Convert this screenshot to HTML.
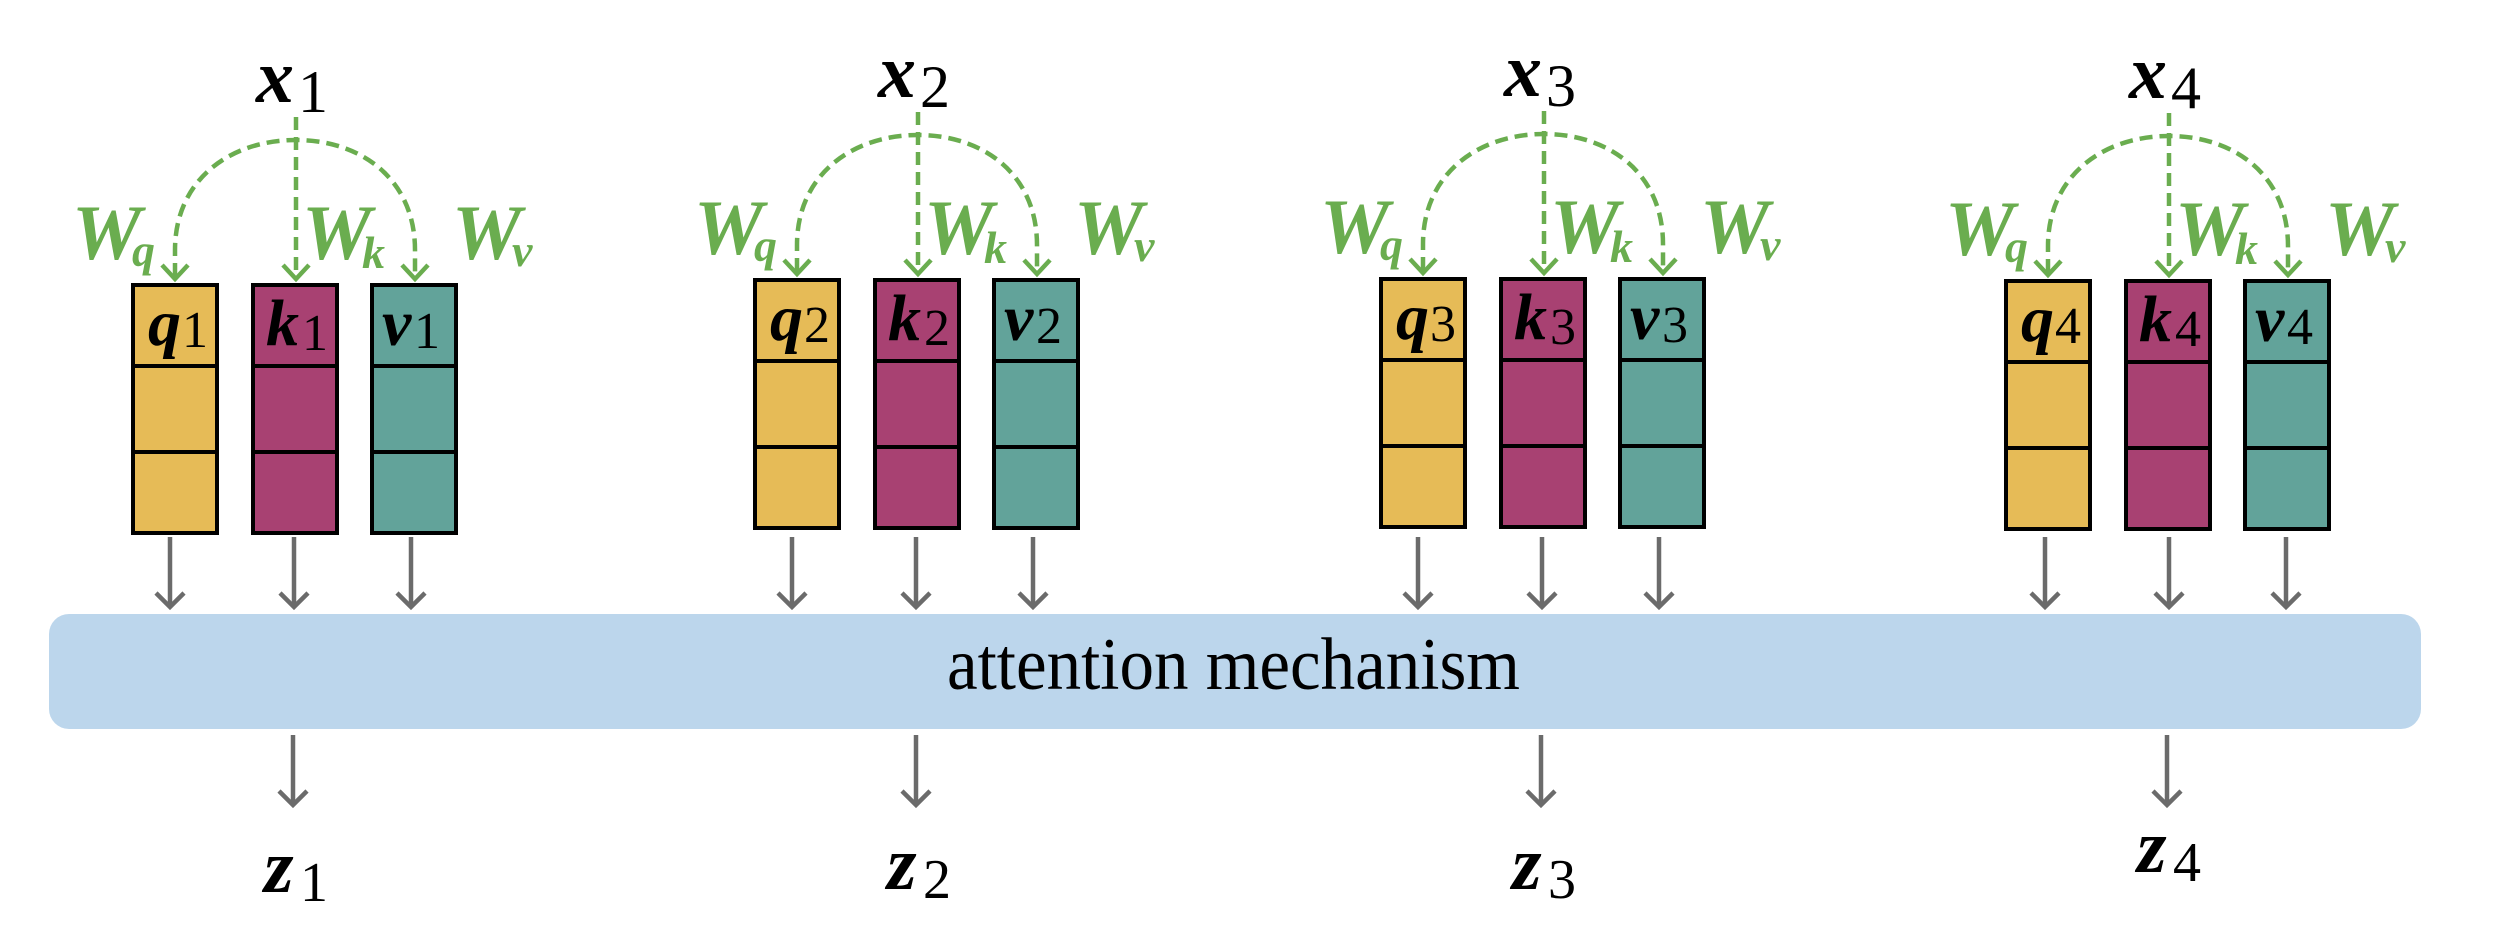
<!DOCTYPE html>
<html><head><meta charset="utf-8"><style>
html,body{margin:0;padding:0;background:#fff;width:2500px;height:943px;overflow:hidden}
svg{display:block}
.m{font-family:"Liberation Serif",serif;font-style:italic;font-weight:bold;fill:#000}
.s{font-family:"Liberation Serif",serif;font-style:normal;font-weight:normal;fill:#000}
.w{font-family:"Liberation Serif",serif;font-style:italic;font-weight:bold;fill:#6aad4f}
</style></head><body>
<svg width="2500" height="943" viewBox="0 0 2500 943" xmlns="http://www.w3.org/2000/svg">
<defs>
<g id="grp">
  <path d="M296,117 L296,276" stroke="#6aad4f" stroke-width="4.5" fill="none" stroke-dasharray="13,7"/>
  <path d="M175,276 L175,250 C175,180 230,140 296,140 C362,140 415,180 415,250 L415,276" stroke="#6aad4f" stroke-width="4.5" fill="none" stroke-dasharray="13,7"/>
  <polyline points="162,265 175,279 188,265" stroke="#6aad4f" stroke-width="4.5" fill="none"/>
  <polyline points="283,265 296,279 309,265" stroke="#6aad4f" stroke-width="4.5" fill="none"/>
  <polyline points="402,265 415,279 428,265" stroke="#6aad4f" stroke-width="4.5" fill="none"/>
  <rect x="133" y="285" width="84" height="248" fill="#e6bb57" stroke="#000" stroke-width="4"/>
  <rect x="253" y="285" width="84" height="248" fill="#a84172" stroke="#000" stroke-width="4"/>
  <rect x="372" y="285" width="84" height="248" fill="#62a39a" stroke="#000" stroke-width="4"/>
  <path d="M133,366 H217 M133,452 H217 M253,366 H337 M253,452 H337 M372,366 H456 M372,452 H456" stroke="#000" stroke-width="4"/>
  <text x="72" y="259" class="w" font-size="78">W</text><text x="132" y="266" class="w" font-size="46">q</text>
  <text x="302" y="259" class="w" font-size="78">W</text><text x="362" y="268" class="w" font-size="46">k</text>
  <text x="452" y="259" class="w" font-size="78">W</text><text x="512" y="266" class="w" font-size="46">v</text>
</g>
<g id="dn">
  <line x1="0" y1="0" x2="0" y2="70" stroke="#6b6b6b" stroke-width="4.5"/>
  <polyline points="-14,56 0,70 14,56" stroke="#6b6b6b" stroke-width="4.5" fill="none"/>
</g>
</defs>

<rect x="49" y="614" width="2372" height="115" rx="20" ry="20" fill="#bcd6ec"/>
<text x="947" y="689" font-family="Liberation Serif, serif" font-size="74" textLength="573" lengthAdjust="spacingAndGlyphs" fill="#000">attention mechanism</text>

<g transform="translate(0,0)">
  <use href="#grp"/>
  <text x="256" y="102" class="m" font-size="76">x</text><text x="298" y="112" class="s" font-size="60">1</text>
  <text x="148" y="345" class="m" font-size="66">q</text><text x="182" y="347" class="s" font-size="52">1</text>
  <text x="266" y="345" class="m" font-size="66">k</text><text x="302" y="350" class="s" font-size="52">1</text>
  <text x="382" y="345" class="m" font-size="66">v</text><text x="414" y="348" class="s" font-size="52">1</text>
</g>
<g transform="translate(622,-5)">
  <use href="#grp"/>
  <text x="256" y="102" class="m" font-size="76">x</text><text x="298" y="112" class="s" font-size="60">2</text>
  <text x="148" y="345" class="m" font-size="66">q</text><text x="182" y="347" class="s" font-size="52">2</text>
  <text x="266" y="345" class="m" font-size="66">k</text><text x="302" y="350" class="s" font-size="52">2</text>
  <text x="382" y="345" class="m" font-size="66">v</text><text x="414" y="348" class="s" font-size="52">2</text>
</g>
<g transform="translate(1248,-6)">
  <use href="#grp"/>
  <text x="256" y="102" class="m" font-size="76">x</text><text x="298" y="112" class="s" font-size="60">3</text>
  <text x="148" y="345" class="m" font-size="66">q</text><text x="182" y="347" class="s" font-size="52">3</text>
  <text x="266" y="345" class="m" font-size="66">k</text><text x="302" y="350" class="s" font-size="52">3</text>
  <text x="382" y="345" class="m" font-size="66">v</text><text x="414" y="348" class="s" font-size="52">3</text>
</g>
<g transform="translate(1873,-4)">
  <use href="#grp"/>
  <text x="256" y="102" class="m" font-size="76">x</text><text x="298" y="112" class="s" font-size="60">4</text>
  <text x="148" y="345" class="m" font-size="66">q</text><text x="182" y="347" class="s" font-size="52">4</text>
  <text x="266" y="345" class="m" font-size="66">k</text><text x="302" y="350" class="s" font-size="52">4</text>
  <text x="382" y="345" class="m" font-size="66">v</text><text x="414" y="348" class="s" font-size="52">4</text>
</g>

<use href="#dn" x="170" y="537"/><use href="#dn" x="294" y="537"/><use href="#dn" x="411" y="537"/>
<use href="#dn" x="792" y="537"/><use href="#dn" x="916" y="537"/><use href="#dn" x="1033" y="537"/>
<use href="#dn" x="1418" y="537"/><use href="#dn" x="1542" y="537"/><use href="#dn" x="1659" y="537"/>
<use href="#dn" x="2045" y="537"/><use href="#dn" x="2169" y="537"/><use href="#dn" x="2286" y="537"/>

<use href="#dn" x="293" y="735"/>
<use href="#dn" x="916" y="735"/>
<use href="#dn" x="1541" y="735"/>
<use href="#dn" x="2167" y="735"/>

<text x="264" y="892" class="m" font-size="76">z</text><text x="300" y="901" class="s" font-size="56">1</text>
<text x="887" y="889" class="m" font-size="76">z</text><text x="923" y="898" class="s" font-size="56">2</text>
<text x="1512" y="889" class="m" font-size="76">z</text><text x="1548" y="898" class="s" font-size="56">3</text>
<text x="2137" y="872" class="m" font-size="76">z</text><text x="2173" y="881" class="s" font-size="56">4</text>
</svg>
</body></html>
